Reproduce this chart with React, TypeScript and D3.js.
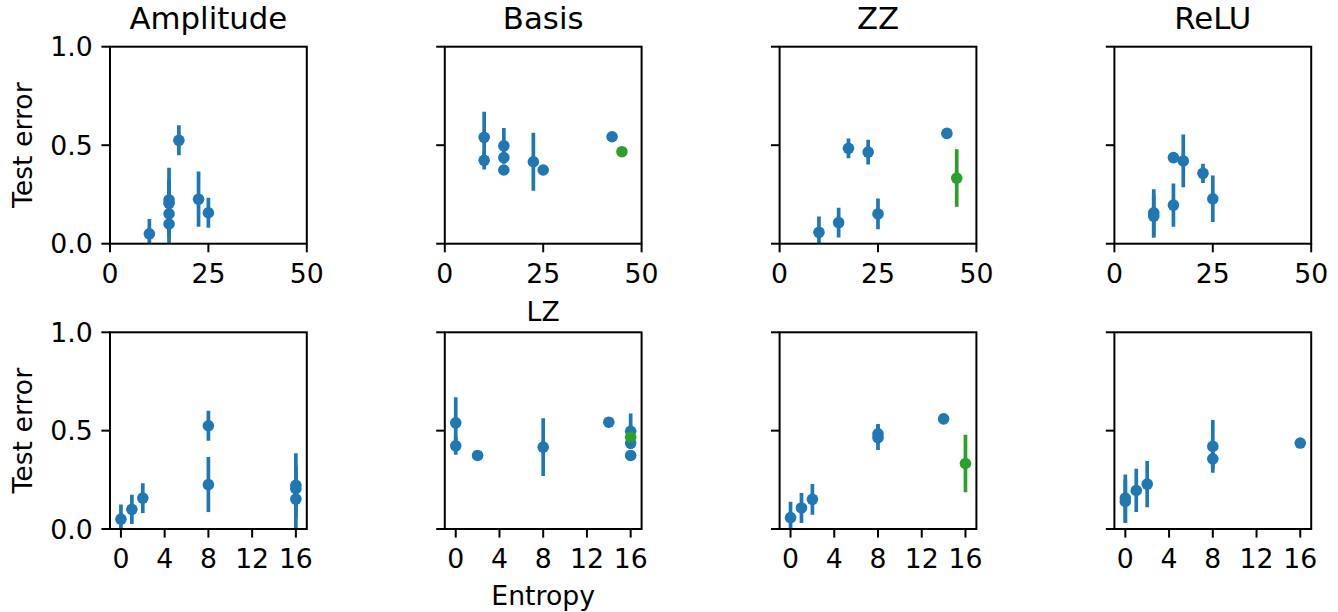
import React from "react";
import * as d3 from "d3";

// Encodings (columns)
const encodings = ["Amplitude", "Basis", "ZZ", "ReLU"];

// Configurations: entropy (top row x) and LZ entropy (bottom row x)
const configEntropy = [10, 15, 25, 17.5, 22.5, 15, 42.5, 45];
const configLZ = [0, 1, 2, 8, 8, 16, 14, 16];
const highlightedConfig = 7;

// Amplitude
const amplitudeConfig = [0, 1, 2, 3, 4, 5, 5, 5];
const amplitudeError = [0.05, 0.1, 0.157, 0.525, 0.226, 0.222, 0.205, 0.152];
const amplitudeStd = [0.075, 0.074, 0.076, 0.076, 0.14, 0.163, 0.12, 0.16];

// Basis
const basisConfig = [0, 0, 5, 5, 5, 4, 2, 6, 7];
const basisError = [0.54, 0.423, 0.497, 0.437, 0.374, 0.416, 0.374, 0.543, 0.467];
const basisStd = [0.13, 0.046, 0.09, 0.03, 0.005, 0.147, 0.005, 0.012, 0.012];

// ZZ
const zzConfig = [0, 1, 3, 4, 2, 6, 7];
const zzError = [0.058, 0.107, 0.484, 0.465, 0.151, 0.56, 0.333];
const zzStd = [0.08, 0.076, 0.05, 0.063, 0.078, 0.008, 0.146];

// ReLU
const reluConfig = [0, 0, 1, 5, 3, 4, 2];
const reluError = [0.157, 0.14, 0.196, 0.437, 0.42, 0.357, 0.228];
const reluStd = [0.12, 0.11, 0.11, 0.005, 0.134, 0.049, 0.118];

// Ticks
const entropyTicks = [0, 25, 50];
const lzTicks = [0, 4, 8, 12, 16];
const errorTicks = [0, 0.5, 1.0];

const seriesConfig = [amplitudeConfig, basisConfig, zzConfig, reluConfig];
const seriesError = [amplitudeError, basisError, zzError, reluError];
const seriesStd = [amplitudeStd, basisStd, zzStd, reluStd];

const BLUE = "#1f77b4";
const GREEN = "#2ca02c";
const FONT = "DejaVu Sans";
const TICK_FS = 26.7;
const TITLE_FS = 30.8;
const TICK_LEN = 8.6;
const LW = 2;

const panelLeft0 = 110;
const panelStep = 334.8;
const panelW = 196.8;
const rowTop = [46.7, 332.3];
const rowBottom = [243.7, 529];

function Panel({ row, col }: { row: number; col: number }) {
  const left = panelLeft0 + col * panelStep;
  const right = left + panelW;
  const top = rowTop[row];
  const bottom = rowBottom[row];
  const x = row === 0
    ? d3.scaleLinear().domain([0, 50]).range([left, right])
    : d3.scaleLinear().domain([-1, 17]).range([left, right]);
  const y = d3.scaleLinear().domain([0, 1]).range([bottom, top]);
  const xTicks = row === 0 ? entropyTicks : lzTicks;
  const cfg = seriesConfig[col];
  const err = seriesError[col];
  const sd = seriesStd[col];
  const clipId = `clip-${row}-${col}`;
  const pts = cfg.map((c, i) => ({
    x: row === 0 ? configEntropy[c] : configLZ[c],
    y: err[i],
    s: sd[i],
    color: c === highlightedConfig ? GREEN : BLUE,
  }));
  return (
    <g>
      <defs>
        <clipPath id={clipId}>
          <rect x={left} y={top} width={panelW} height={bottom - top} />
        </clipPath>
      </defs>
      <g clipPath={`url(#${clipId})`}>
        {pts.map((p, i) => (
          <g key={i}>
            <line
              x1={x(p.x)}
              x2={x(p.x)}
              y1={y(p.y - p.s)}
              y2={y(p.y + p.s)}
              stroke={p.color}
              strokeWidth={3.7}
            />
            <circle cx={x(p.x)} cy={y(p.y)} r={5.8} fill={p.color} />
          </g>
        ))}
      </g>
      <rect
        x={left}
        y={top}
        width={panelW}
        height={bottom - top}
        fill="none"
        stroke="#000"
        strokeWidth={LW}
      />
      {errorTicks.map((t) => (
        <g key={"y" + t}>
          <line x1={left - TICK_LEN} x2={left} y1={y(t)} y2={y(t)} stroke="#000" strokeWidth={LW} />
          {col === 0 && (
            <text
              x={left - TICK_LEN - 8.6}
              y={y(t) + 9.7}
              textAnchor="end"
              fontFamily={FONT}
              fontSize={TICK_FS}
              fill="#000"
            >
              {t.toFixed(1)}
            </text>
          )}
        </g>
      ))}
      {xTicks.map((t) => (
        <g key={"x" + t}>
          <line x1={x(t)} x2={x(t)} y1={bottom} y2={bottom + TICK_LEN} stroke="#000" strokeWidth={LW} />
          <text
            x={x(t)}
            y={bottom + 38.8}
            textAnchor="middle"
            fontFamily={FONT}
            fontSize={TICK_FS}
            fill="#000"
          >
            {String(t)}
          </text>
        </g>
      ))}
      {row === 0 && (
        <text
          x={(left + right) / 2}
          y={29.2}
          textAnchor="middle"
          fontFamily={FONT}
          fontSize={TITLE_FS}
          fill="#000"
        >
          {encodings[col]}
        </text>
      )}
      {row === 1 && col === 1 && (
        <>
          <text
            x={(left + right) / 2}
            y={320.7}
            textAnchor="middle"
            fontFamily={FONT}
            fontSize={TICK_FS}
            fill="#000"
          >
            LZ
          </text>
          <text
            x={(left + right) / 2}
            y={604.5}
            textAnchor="middle"
            fontFamily={FONT}
            fontSize={TICK_FS}
            fill="#000"
          >
            Entropy
          </text>
        </>
      )}
      {col === 0 && (
        <text
          transform={`translate(32.3, ${(top + bottom) / 2}) rotate(-90)`}
          textAnchor="middle"
          fontFamily={FONT}
          fontSize={TICK_FS}
          fill="#000"
        >
          Test error
        </text>
      )}
    </g>
  );
}

export default function App() {
  const cells: { row: number; col: number }[] = [];
  [0, 1].forEach((row) => encodings.forEach((_, col) => cells.push({ row, col })));
  return (
    <svg
      width={1338}
      height={612}
      style={{ position: "absolute", left: 0, top: 0, background: "#fff" }}
    >
      <rect width={1338} height={612} fill="#fff" />
      {cells.map((c) => (
        <Panel key={`${c.row}-${c.col}`} row={c.row} col={c.col} />
      ))}
    </svg>
  );
}
